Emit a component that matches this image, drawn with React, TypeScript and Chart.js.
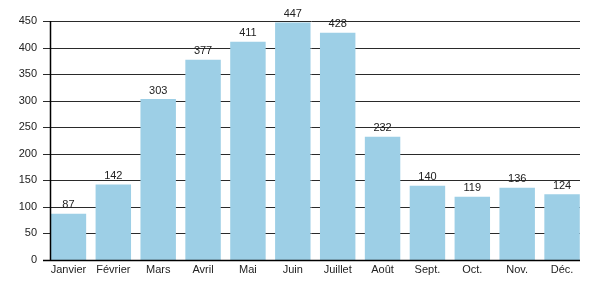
import React, { useEffect, useRef } from "react";
import { Chart, registerables } from "chart.js";

Chart.register(...registerables);

const categories = ["Janvier", "Février", "Mars", "Avril", "Mai", "Juin", "Juillet", "Août", "Sept.", "Oct.", "Nov.", "Déc."];
const values = [87, 142, 303, 377, 411, 447, 428, 232, 140, 119, 136, 124];
const yTicks = [0, 50, 100, 150, 200, 250, 300, 350, 400, 450];

const FONT = "'Liberation Sans', Arial, Helvetica, sans-serif";

const gridPlugin = {
  id: "customGrid",
  beforeDatasetsDraw(chart: any) {
    const { ctx, scales } = chart;
    const y = scales.y;
    const meta = chart.getDatasetMeta(0);
    const first = meta.data[0];
    const last = meta.data[meta.data.length - 1];
    const left = Math.round(first.x - first.width / 2) - 1;
    const right = Math.round(last.x + last.width / 2);
    ctx.save();
    ctx.strokeStyle = "#2a2a2a";
    ctx.lineWidth = 1;
    ctx.beginPath();
    y.ticks.forEach((t: any) => {
      if (t.value === 0) return;
      const py = Math.round(y.getPixelForValue(t.value)) + 0.5;
      ctx.moveTo(left - 7, py);
      ctx.lineTo(right, py);
    });
    ctx.stroke();
    ctx.restore();
  },
  afterDatasetsDraw(chart: any) {
    const { ctx, scales } = chart;
    const y = scales.y;
    const meta = chart.getDatasetMeta(0);
    const first = meta.data[0];
    const last = meta.data[meta.data.length - 1];
    const left = Math.round(first.x - first.width / 2) - 1;
    const right = Math.round(last.x + last.width / 2);
    const bottom = Math.round(y.getPixelForValue(0)) + 0.5;
    ctx.save();
    ctx.strokeStyle = "#000";
    ctx.lineWidth = 1.5;
    ctx.beginPath();
    ctx.moveTo(left - 7, bottom);
    ctx.lineTo(right, bottom);
    ctx.moveTo(left + 0.5, Math.round(y.getPixelForValue(450)));
    ctx.lineTo(left + 0.5, bottom);
    ctx.stroke();
    // value labels
    ctx.fillStyle = "#222";
    ctx.font = "11px " + FONT;
    ctx.textAlign = "center";
    ctx.textBaseline = "bottom";
    meta.data.forEach((bar: any, i: number) => {
      ctx.fillText(String(values[i]), bar.x, bar.y - 3);
    });
    ctx.restore();
  },
};

export default function App() {
  const ref = useRef<HTMLCanvasElement | null>(null);
  useEffect(() => {
    document.body.style.margin = "0";
    const canvas = ref.current!;
    const chart = new Chart(canvas, {
      type: "bar",
      data: {
        labels: categories,
        datasets: [
          {
            data: values,
            backgroundColor: "#9dcfe6",
            borderWidth: 0,
            categoryPercentage: 1,
            barPercentage: 0.79,
          },
        ],
      },
      options: {
        responsive: false,
        animation: false,
        layout: { padding: { top: 21, right: 15.5, left: 0, bottom: 0 } },
        plugins: { legend: { display: false }, tooltip: { enabled: false } },
        scales: {
          x: {
            grid: { display: false, drawTicks: false },
            border: { display: false },
            ticks: { color: "#222", font: { family: FONT, size: 11 }, padding: 3, maxRotation: 0, autoSkip: false },
            afterFit(scale: any) {
              scale.height = 40;
            },
          },
          y: {
            min: 0,
            max: 450,
            afterBuildTicks(scale: any) {
              scale.ticks = yTicks.map((v) => ({ value: v }));
            },
            grid: { display: false, drawTicks: false },
            border: { display: false },
            ticks: { color: "#222", font: { family: FONT, size: 11 }, padding: 9 },
            afterFit(scale: any) {
              scale.width = 46;
            },
          },
        },
      },
      plugins: [gridPlugin],
    });
    return () => chart.destroy();
  }, []);
  return <canvas ref={ref} width={600} height={300} style={{ display: "block" }} />;
}
